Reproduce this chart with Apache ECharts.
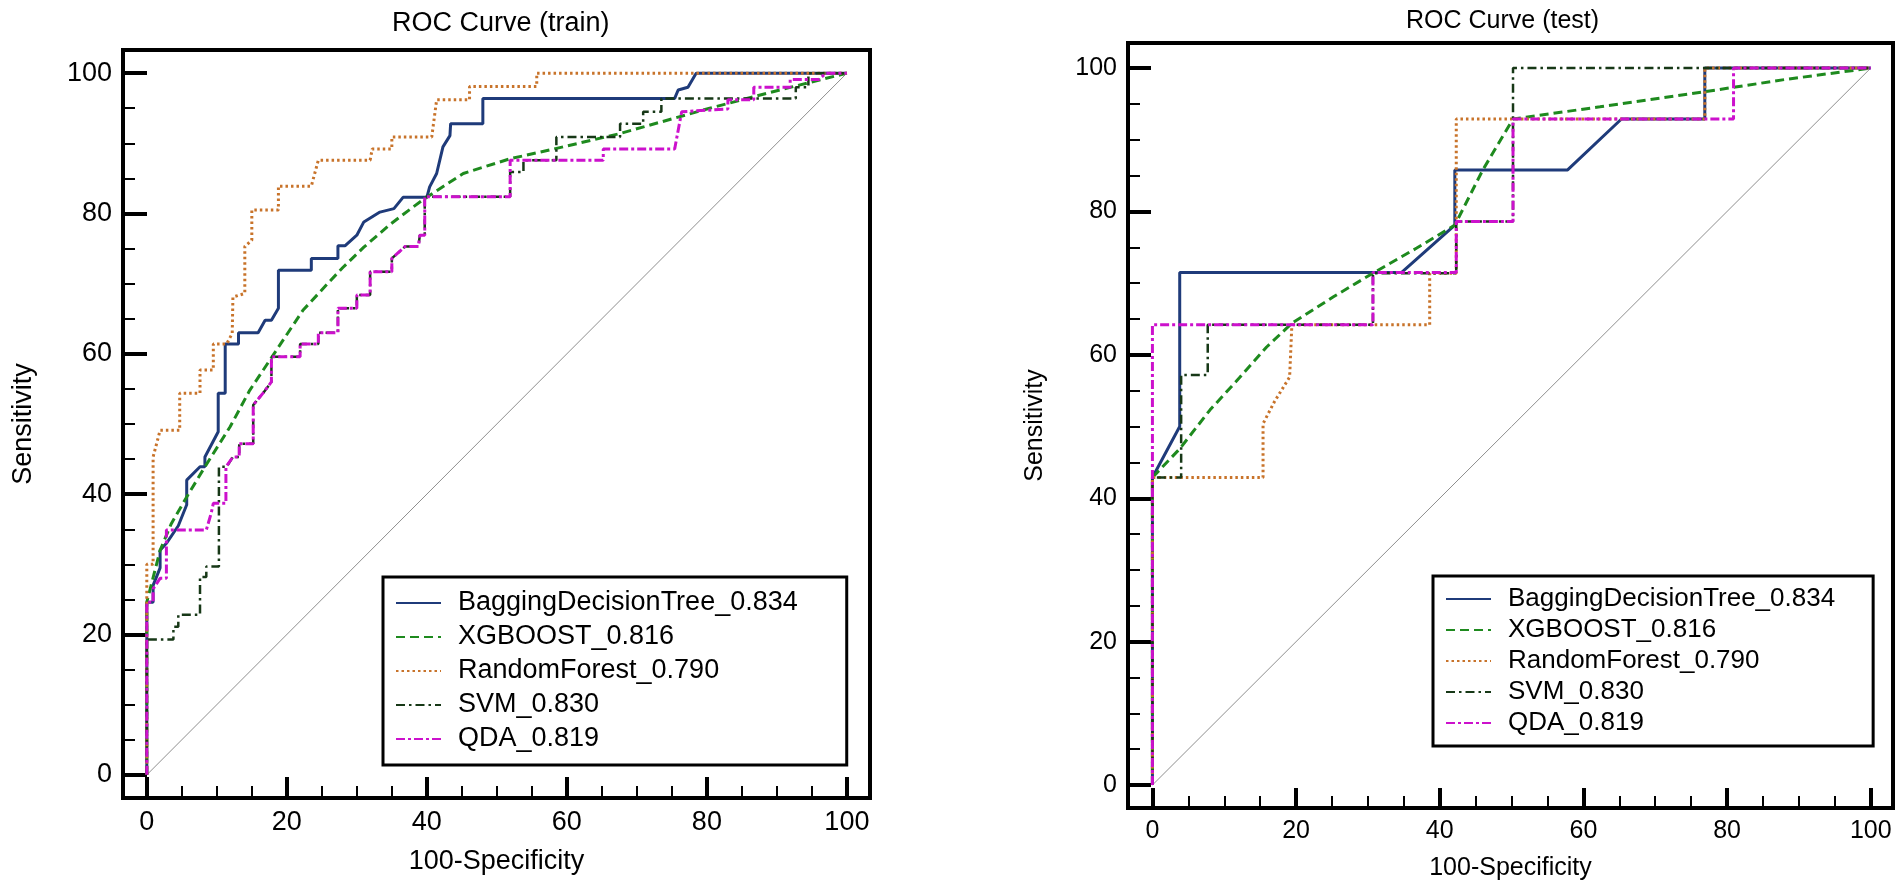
<!DOCTYPE html>
<html><head><meta charset="utf-8">
<script src="https://cdn.jsdelivr.net/npm/echarts@6/dist/echarts.min.js"></script>
<style>html,body{margin:0;padding:0;background:#fff}#c{width:1902px;height:891px}</style>
</head><body><div id="c"></div>
<script>
const modelNames = ['BaggingDecisionTree_0.834','XGBOOST_0.816','RandomForest_0.790','SVM_0.830','QDA_0.819'];
const titles = ['ROC Curve (train)','ROC Curve (test)'];
const xName = '100-Specificity';
const yName = 'Sensitivity';
const majorTicks = [0,20,40,60,80,100];
const minorTicks = [5,10,15,25,30,35,45,50,55,65,70,75,85,90,95];
const diagonal = [[0,0],[100,100]];

const trainBagging = [[0,0],[0,24.6],[0.9,24.6],[0.9,27],[1.9,29.5],[1.9,32],[2.8,33],[4.5,35.5],[5.7,38.5],[5.7,42],[7.6,43.9],[8.3,43.9],[8.3,45.3],[10.2,48.9],[10.2,54.4],[11.2,54.4],[11.2,61.4],[13.1,61.4],[13.1,63],[15.9,63],[16.9,64.8],[17.8,64.8],[18.8,66.5],[18.8,71.9],[23.5,71.9],[23.5,73.6],[27.3,73.6],[27.3,75.4],[28.3,75.4],[30,76.9],[31,78.8],[33.3,80.2],[35.3,80.7],[36.6,82.3],[40,82.3],[40.4,83.8],[41.4,85.7],[42.3,89.5],[43.3,91.1],[43.4,92.8],[48,92.8],[48,96.4],[75.4,96.4],[75.9,97.6],[77.3,98],[78.3,99.7],[78.5,100],[100,100]];
const trainXGB = [[0,0],[0,24.6],[1,28.5],[1.9,32],[3.5,35.8],[5.7,39.6],[8.3,43.9],[11.9,49.6],[14.7,54.8],[18.5,60.5],[22.3,66.2],[26.1,70.3],[28,72.3],[31,75.2],[34.7,78.4],[37.6,80.6],[39.5,82],[45.2,85.7],[51.9,87.8],[59.5,89.5],[67.6,91.4],[80.4,95],[90,97.5],[100,100]];
const trainRF = [[0,0],[0,30],[0.9,30],[0.9,45.3],[1.9,49.1],[4.7,49.1],[4.7,54.4],[7.6,54.4],[7.6,57.7],[9.5,57.7],[9.5,61.4],[11.4,61.4],[12.2,62.9],[12.3,68.1],[14,68.6],[14,75.3],[15,76.2],[15,80.5],[18.8,80.5],[18.8,83.9],[23.5,83.9],[24.5,87.6],[31.9,87.6],[32.2,89.2],[35,89.2],[35,90.9],[40.7,90.9],[41.4,96.2],[46.1,96.2],[46.1,98.1],[55.7,98.1],[55.7,100],[100,100]];
const trainSVM = [[0,0],[0,19.3],[3.8,19.3],[3.8,21.1],[4.5,21.1],[4.5,22.8],[7.6,22.8],[7.6,28.2],[8.5,28.2],[8.5,29.7],[10.3,29.7],[10.3,43.9],[11.4,43.9],[12.3,45.3],[13.2,45.3],[13.2,47.2],[15.2,47.2],[15.2,52.7],[16.6,54.4],[17.8,56],[17.8,59.6],[21.9,59.6],[21.9,61.4],[24.5,61.4],[24.5,63],[27.3,63],[27.3,66.5],[30,66.5],[30,68.4],[31.9,68.4],[31.9,71.7],[35,71.7],[35,73.6],[36.9,75.3],[38.8,75.3],[39,76.9],[39.7,76.9],[39.7,82.4],[51.9,82.4],[51.9,85.9],[53.8,85.9],[53.8,87.6],[58.5,87.6],[58.5,90.9],[67.6,90.9],[67.6,92.8],[70.9,92.8],[70.9,94.5],[73.5,94.5],[73.5,96.4],[92.7,96.4],[92.7,98],[94.5,98],[94.5,100],[100,100]];
const trainQDA = [[0,0],[0,24.6],[0.9,24.6],[0.9,26.5],[1.9,28],[2.8,28],[2.8,34.9],[8.5,34.9],[9.2,37.3],[9.5,38.7],[11.3,38.7],[11.3,43.9],[12.3,45.3],[13.2,45.3],[13.2,47.2],[15.2,47.2],[15.2,52.7],[16.6,54.4],[17.8,56],[17.8,59.6],[21.9,59.6],[21.9,61.4],[24.5,61.4],[24.5,63],[27.3,63],[27.3,66.5],[30,66.5],[30,68.4],[31.9,68.4],[31.9,71.7],[35,71.7],[35,73.6],[36.9,75.3],[38.8,75.3],[39,76.9],[39.7,76.9],[39.7,82.4],[51.9,82.4],[51.9,87.6],[65.2,87.6],[65.2,89.2],[75.4,89.2],[76.4,94.5],[83,94.9],[83,96.2],[86.7,96.2],[86.7,98],[91.9,98],[91.9,99.1],[96,99.1],[97,100],[100,100]];

const testBagging = [[0,0],[0,42.9],[3.8,50],[3.8,71.5],[34.7,71.5],[42.1,78.1],[42.1,85.8],[57.8,85.8],[65.3,92.9],[76.9,92.9],[76.9,100],[100,100]];
const testXGB = [[0,0],[0,42.9],[3.8,46.9],[8,52.3],[12.2,56.9],[15.9,61.1],[19.4,64.4],[25.2,68.1],[30.7,71.4],[36.8,74.9],[42.1,78.1],[46,85.8],[50.2,92.9],[62.3,94.6],[76.9,96.7],[88,98.4],[100,100]];
const testRF = [[0,0],[0,42.9],[15.4,42.9],[15.4,50.4],[17,53.5],[19.1,56.9],[19.4,63.9],[19.6,64.2],[38.6,64.2],[38.6,71.4],[42.3,71.4],[42.3,92.9],[76.9,92.9],[76.9,100],[100,100]];
const testSVM = [[0,0],[0,42.9],[4,42.9],[4,57.2],[7.7,57.2],[7.7,64.2],[30.7,64.2],[30.7,71.4],[42.3,71.4],[42.3,78.6],[50.2,78.6],[50.2,100],[100,100]];
const testQDA = [[0,0],[0,64.2],[30.7,64.2],[30.7,71.5],[42.3,71.5],[42.3,78.6],[50.2,78.6],[50.2,92.9],[80.9,92.9],[80.9,100],[100,100]];

const trainSets = [trainBagging, trainXGB, trainRF, trainSVM, trainQDA];
const testSets = [testBagging, testXGB, testRF, testSVM, testQDA];

const FONT = '"Liberation Sans", Arial, Helvetica, sans-serif';
const styles = [
  {color:'#1f3b7a', width:3, type:'solid'},
  {color:'#1e8a1e', width:3, type:[9,5]},
  {color:'#c8732a', width:3, type:[2.5,3]},
  {color:'#173817', width:2.5, type:[9,4,2.5,4]},
  {color:'#cc11cc', width:3, type:[9,3,3,3]}
];

const panels = [
  {grid:{left:123, top:50, width:747, height:748}, x:[-3.4,103.3], y:[-3.3,103.3], fs:27, lfs:27,
   xLen:21, yLen:24, xGap:50, yGap:86, title:{left:387, top:5}, legend:{left:383, top:577, padR:49, lh:28, gap:6, padV:12}},
  {grid:{left:1128, top:43, width:765, height:765}, x:[-3.4,103.1], y:[-3.2,103.5], fs:25, lfs:26,
   xLen:20, yLen:23, xGap:48, yGap:80, title:{left:1401, top:4}, legend:{left:1433, top:576, padR:38, lh:26, gap:5, padV:10}}
];

const option = {animation:false, backgroundColor:'#fff', textStyle:{fontFamily:FONT},
  title:[], grid:[], xAxis:[], yAxis:[], legend:[], series:[]};

panels.forEach((p, gi) => {
  option.title.push({text:titles[gi], left:p.title.left, top:p.title.top,
    textStyle:{fontSize:p.fs, fontWeight:'normal', color:'#000', fontFamily:FONT}});
  option.grid.push(Object.assign({show:true, borderColor:'#000', borderWidth:4, backgroundColor:'#fff'}, p.grid));
  ['x','y'].forEach(d => {
    const arr = d === 'x' ? option.xAxis : option.yAxis;
    const pos = d === 'x' ? 'bottom' : 'left';
    const len = d === 'x' ? p.xLen : p.yLen;
    const rng = p[d];
    arr.push({type:'value', gridIndex:gi, position:pos, min:rng[0], max:rng[1],
      name: d === 'x' ? xName : yName, nameLocation:'middle', nameGap: d === 'x' ? p.xGap : p.yGap,
      nameTextStyle:{fontSize:p.fs, color:'#000', fontFamily:FONT},
      axisLine:{show:false, onZero:false}, splitLine:{show:false},
      axisTick:{show:true, inside:true, length:len, customValues:majorTicks, lineStyle:{color:'#000', width:4}},
      axisLabel:{show:true, customValues:majorTicks, fontSize:p.fs, color:'#000', margin:11, fontFamily:FONT}});
    arr.push({type:'value', gridIndex:gi, position:pos, min:rng[0], max:rng[1],
      axisLine:{show:false, onZero:false}, splitLine:{show:false},
      axisTick:{show:true, inside:true, length:12, customValues:minorTicks, lineStyle:{color:'#000', width:2}},
      axisLabel:{show:false, customValues:minorTicks}});
  });
  option.legend.push({orient:'vertical', left:p.legend.left, top:p.legend.top, data:modelNames,
    selectedMode:false, itemWidth:45, itemHeight:14, itemGap:p.legend.gap,
    padding:[p.legend.padV, p.legend.padR, p.legend.padV, 12],
    borderColor:'#000', borderWidth:3, backgroundColor:'#fff',
    itemStyle:{opacity:0, borderWidth:0},
    textStyle:{fontSize:p.lfs, color:'#000', lineHeight:p.legend.lh, padding:[0,0,0,12], fontFamily:FONT}});
  option.series.push({type:'line', name:'diag', xAxisIndex:gi*2, yAxisIndex:gi*2, data:diagonal,
    symbol:'none', silent:true, lineStyle:{color:'#8f8f8f', width:1}, z:1});
  const sets = gi === 0 ? trainSets : testSets;
  sets.forEach((data, si) => {
    option.series.push({type:'line', name:modelNames[si], xAxisIndex:gi*2, yAxisIndex:gi*2, data:data,
      symbol:'none', showSymbol:false, smooth:false, silent:true,
      itemStyle:{color:styles[si].color, opacity:0},
      lineStyle:{color:styles[si].color, width:styles[si].width, type:styles[si].type, cap:'butt', opacity:1}, z:2+si});
  });
});

const chart = echarts.init(document.getElementById('c'), null, {renderer:'canvas'});
chart.setOption(option);
</script>
</body></html>
